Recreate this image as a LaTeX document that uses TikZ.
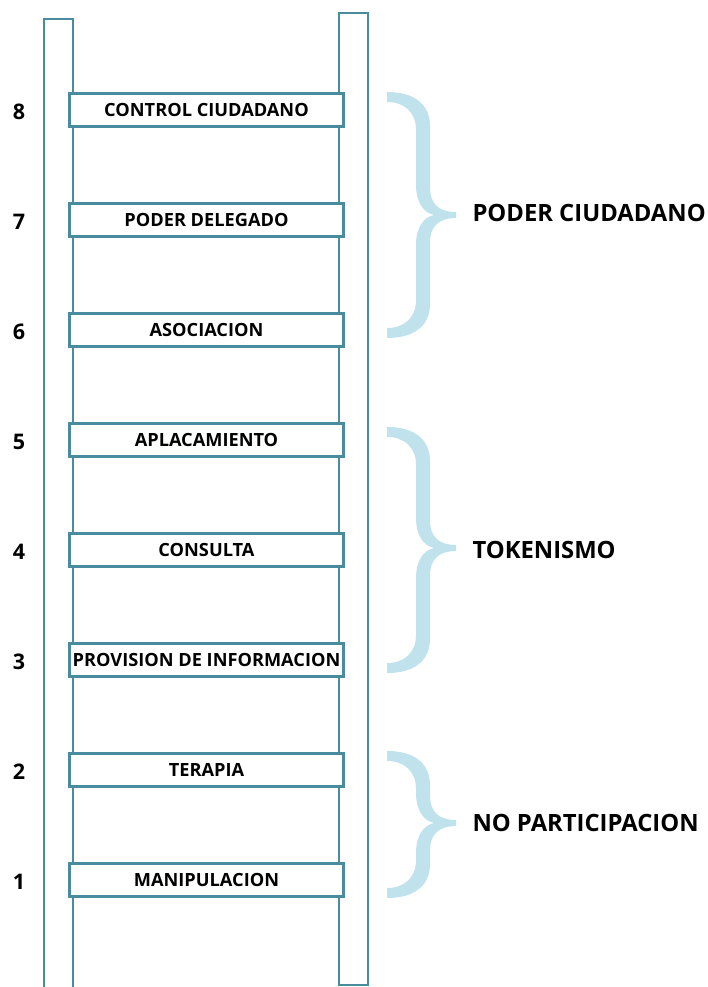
\documentclass[tikz,border=0pt]{standalone}
\usepackage{fontspec}
\setmainfont{Open Sans}
\usepackage{tikz}
\definecolor{riel}{HTML}{4A8C9F}
\definecolor{celeste}{HTML}{C0E2EC}
\tikzset{
  riel/.style={draw=riel, line width=2.6pt},
  peldano/.style={draw=riel, line width=2.6pt, fill=white, minimum width=274.4pt,
    minimum height=33.4pt, inner xsep=1pt, font=\fontsize{18.2}{21}\selectfont\bfseries},
  numero/.style={font=\fontsize{21.5}{25}\selectfont\bfseries},
  grupo/.style={anchor=west, font=\fontsize{23.8}{28}\selectfont\bfseries},
  llave/.style={fill=celeste}
}
% #1 top, #2 tip, #3 bottom
\newcommand{\llave}[3]{%
  \fill[llave] (387,#1) .. controls (414,#1) and (430,#1+12) .. (430,#1+34)
    -- (430,#2-28) .. controls (430,#2-10) and (440,#2-3) .. (456,#2-3)
    -- (456,#2+3) .. controls (440,#2+3) and (430,#2+10) .. (430,#2+28)
    -- (430,#3-34) .. controls (430,#3-12) and (414,#3) .. (387,#3)
    -- (387,#3-10) .. controls (404,#3-10) and (416,#3-20) .. (416,#3-38)
    -- (416,#2+30) .. controls (416,#2+12) and (424,#2+2) .. (434,#2)
    .. controls (424,#2-2) and (416,#2-12) .. (416,#2-30)
    -- (416,#1+38) .. controls (416,#1+20) and (404,#1+10) .. (387,#1+10) -- cycle;
}

\begin{document}
\begin{tikzpicture}[x=1pt, y=-1pt]
  \useasboundingbox (0,0) rectangle (708,987);

  \draw[riel] (44,992) |- (73,19) -- (73,992);
  \draw[riel] (339,13) rectangle (368,985);

  \foreach \i/\nombre in {8/CONTROL CIUDADANO, 7/PODER DELEGADO, 6/ASOCIACION,
      5/APLACAMIENTO, 4/CONSULTA, 3/PROVISION DE INFORMACION, 2/TERAPIA,
      1/MANIPULACION} {
    \node[peldano] (r\i) at (206.5, {110*(9-\i)}) {\nombre};
    \node[numero] (n\i) at (19, {110*(9-\i)+2}) {\i};
  }

  \llave{92}{215}{338}
  \llave{427}{548}{673}
  \llave{751}{823}{898}

  \node[grupo] (poder) at (469,213) {PODER CIUDADANO};
  \node[grupo] (tokenismo) at (469,550) {TOKENISMO};
  \node[grupo] (nopart) at (469,823) {NO PARTICIPACION};
\end{tikzpicture}
\end{document}
